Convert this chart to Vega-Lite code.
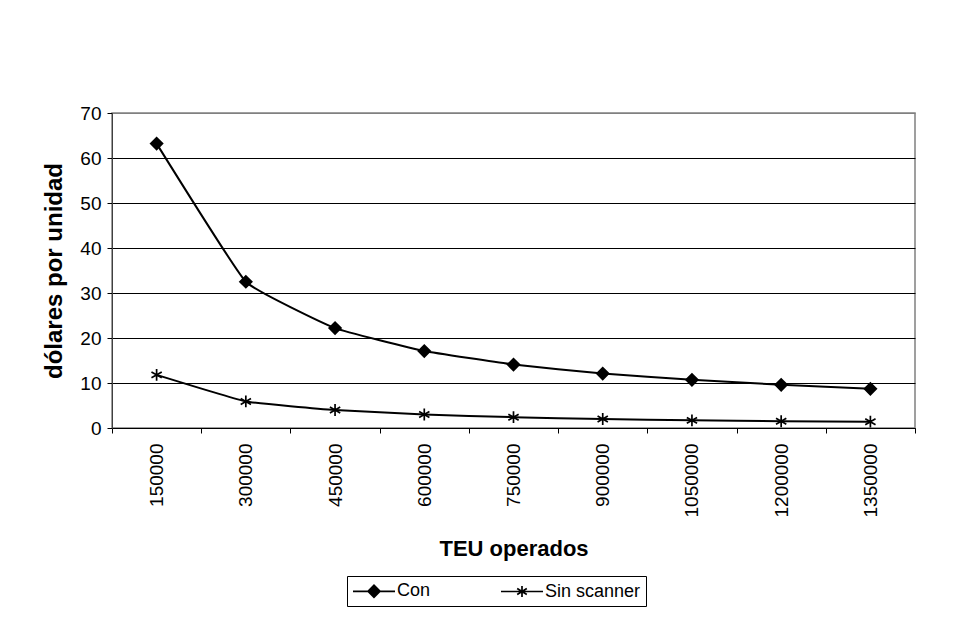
{
  "$schema": "https://vega.github.io/schema/vega-lite/v6.json",
  "width": 803,
  "height": 315,
  "autosize": {"type": "none"},
  "padding": {"left": 112, "top": 113, "right": 43, "bottom": 200},
  "background": "white",
  "config": {
    "font": "Liberation Sans",
    "view": {"stroke": "#808080", "strokeWidth": 1.5}
  },
  "data": {
    "values": [
      {"teu": 150000, "series": "Con", "value": 63.2},
      {"teu": 300000, "series": "Con", "value": 32.5},
      {"teu": 450000, "series": "Con", "value": 22.2},
      {"teu": 600000, "series": "Con", "value": 17.1},
      {"teu": 750000, "series": "Con", "value": 14.1},
      {"teu": 900000, "series": "Con", "value": 12.1},
      {"teu": 1050000, "series": "Con", "value": 10.7},
      {"teu": 1200000, "series": "Con", "value": 9.6},
      {"teu": 1350000, "series": "Con", "value": 8.7},
      {"teu": 150000, "series": "Sin scanner", "value": 11.8},
      {"teu": 300000, "series": "Sin scanner", "value": 5.9},
      {"teu": 450000, "series": "Sin scanner", "value": 4.0},
      {"teu": 600000, "series": "Sin scanner", "value": 3.0},
      {"teu": 750000, "series": "Sin scanner", "value": 2.4},
      {"teu": 900000, "series": "Sin scanner", "value": 2.0},
      {"teu": 1050000, "series": "Sin scanner", "value": 1.7},
      {"teu": 1200000, "series": "Sin scanner", "value": 1.5},
      {"teu": 1350000, "series": "Sin scanner", "value": 1.4}
    ]
  },
  "encoding": {
    "x": {
      "field": "teu",
      "type": "ordinal",
      "bandPosition": 0.5,
      "scale": {"type": "band", "paddingInner": 0, "paddingOuter": 0},
      "axis": {
        "title": "TEU operados",
        "titleFontSize": 22,
        "titleFontWeight": "bold",
        "titleColor": "black",
        "titlePadding": 22,
        "labelAngle": -90,
        "labelAlign": "right",
        "labelBaseline": "middle",
        "labelFontSize": 19,
        "labelColor": "black",
        "labelPadding": 10,
        "tickBand": "extent",
        "tickSize": 5,
        "tickColor": "black",
        "domainColor": "black",
        "grid": false
      }
    },
    "y": {
      "field": "value",
      "type": "quantitative",
      "scale": {"domain": [0, 70], "nice": false},
      "axis": {
        "title": "dólares por unidad",
        "titleFontSize": 24,
        "titleFontWeight": "bold",
        "titleColor": "black",
        "titlePadding": 13,
        "values": [0, 10, 20, 30, 40, 50, 60, 70],
        "labelFontSize": 19,
        "labelColor": "black",
        "labelPadding": 6,
        "tickSize": 5,
        "tickColor": "black",
        "domainColor": "#404040",
        "grid": true,
        "gridColor": {"condition": {"test": "datum.value == 70", "value": "#808080"}, "value": "black"},
        "gridWidth": 1
      }
    }
  },
  "layer": [
    {
      "mark": {"type": "line", "interpolate": "cardinal", "tension": 0.7, "color": "black", "strokeWidth": 2},
      "encoding": {"detail": {"field": "series", "type": "nominal"}}
    },
    {
      "mark": {"type": "point", "filled": true, "fill": "black", "stroke": "black", "strokeWidth": 1.7, "size": 140, "opacity": 1},
      "encoding": {
        "shape": {
          "field": "series",
          "type": "nominal",
          "scale": {
            "domain": ["Con", "Sin scanner"],
            "range": ["diamond", "M0,-1L0,1M-0.87,-0.5L0.87,0.5M-0.87,0.5L0.87,-0.5"]
          },
          "legend": null
        }
      }
    },
    {
      "mark": {"type": "point", "filled": false, "color": "black", "stroke": "black", "strokeWidth": 1.7, "size": 324, "opacity": 0},
      "encoding": {
        "shape": {
          "field": "series",
          "type": "nominal",
          "scale": {
            "domain": ["Con", "Sin scanner"],
            "range": [
              "M-1,0L3.667,0M0.667,0L1.333,-0.667L2,0L1.333,0.667ZM0.833,0L1.333,-0.5L1.833,0L1.333,0.5ZM1,0L1.333,-0.333L1.667,0L1.333,0.333ZM1.167,0L1.333,-0.167L1.5,0L1.333,0.167Z",
              "M-1,0L3.667,0M1.333,-0.6L1.333,0.6M0.8,-0.33L1.867,0.33M0.8,0.33L1.867,-0.33"
            ]
          },
          "legend": {
            "orient": "none",
            "legendX": 235,
            "legendY": 463,
            "direction": "horizontal",
            "title": null,
            "strokeColor": "black",
            "fillColor": "white",
            "padding": 5,
            "symbolSize": 324,
            "symbolStrokeColor": "black",
            "symbolStrokeWidth": 1.7,
            "symbolOpacity": 1,
            "labelFontSize": 18,
            "labelColor": "black",
            "labelOffset": 25,
            "labelLimit": 0,
            "columnPadding": 66
          }
        }
      }
    }
  ],
  "resolve": {"scale": {"shape": "independent"}, "legend": {"shape": "independent"}}
}
